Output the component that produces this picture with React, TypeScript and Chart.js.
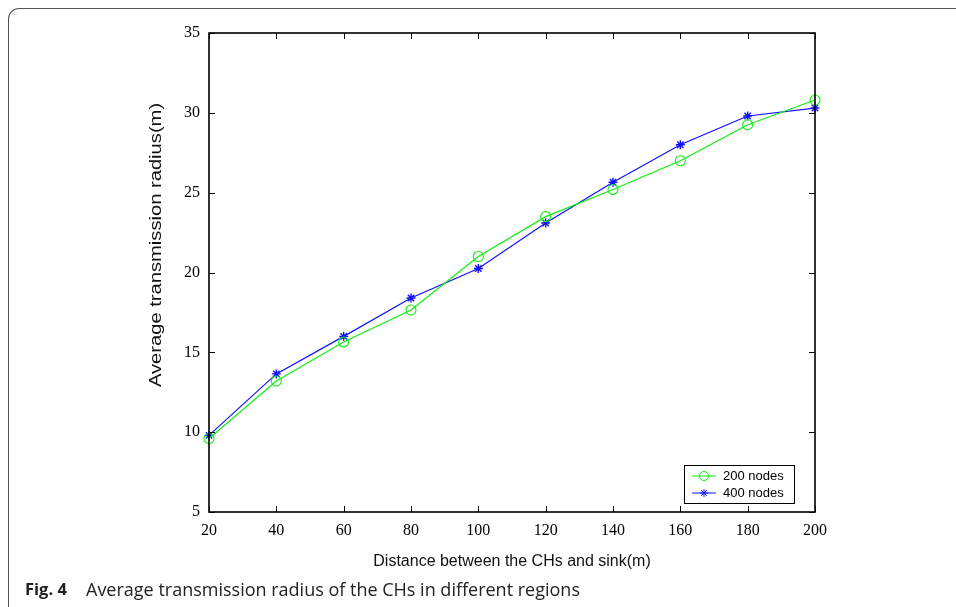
import React, { useEffect, useRef } from "react";
import { Chart, registerables } from "chart.js";

Chart.register(...registerables);

const distances = [20, 40, 60, 80, 100, 120, 140, 160, 180, 200];
const nodes200 = [9.6, 13.2, 15.65, 17.65, 21.0, 23.5, 25.2, 27.0, 29.25, 30.8];
const nodes400 = [9.8, 13.65, 16.0, 18.4, 20.25, 23.1, 25.65, 28.0, 29.8, 30.3];
const seriesLabels = ["200 nodes", "400 nodes"];
const xTitle = "Distance between the CHs and sink(m)";
const yTitle = "Average transmission radius(m)";
const captionBold = "Fig. 4";
const captionText = "Average transmission radius of the CHs in different regions";

const GREEN = "#10ee10";
const BLUE = "#1010ff";

const boxPlugin = {
  id: "boxPlugin",
  afterDraw(chart: any) {
    const { ctx, chartArea } = chart;
    const { left, right, top, bottom } = chartArea;
    const xs = chart.scales.x;
    const ys = chart.scales.y;
    ctx.save();
    ctx.strokeStyle = "#000";
    ctx.lineWidth = 1;
    const tl = 6;
    ctx.beginPath();
    xs.ticks.forEach((t: any) => {
      const px = Math.round(xs.getPixelForValue(t.value)) + 0.5;
      ctx.moveTo(px, bottom);
      ctx.lineTo(px, bottom - tl);
      ctx.moveTo(px, top);
      ctx.lineTo(px, top + tl);
    });
    ys.ticks.forEach((t: any) => {
      const py = Math.round(ys.getPixelForValue(t.value)) + 0.5;
      ctx.moveTo(left, py);
      ctx.lineTo(left + tl, py);
      ctx.moveTo(right, py);
      ctx.lineTo(right - tl, py);
    });
    ctx.stroke();
    ctx.lineWidth = 1.6;
    ctx.strokeRect(left, top, right - left, bottom - top);

    // y-axis title (stretched as in the reference)
    ctx.save();
    ctx.fillStyle = "#111";
    ctx.font = '16px "Liberation Sans"';
    ctx.textAlign = "center";
    ctx.textBaseline = "middle";
    ctx.translate(157, 245);
    ctx.rotate(-Math.PI / 2);
    ctx.scale(1.26, 1);
    ctx.fillText(yTitle, 0, 0);
    ctx.restore();

    // legend
    const lx = 684.5, ly = 465.5, lw = 110, lh = 38;
    ctx.fillStyle = "#fff";
    ctx.fillRect(lx, ly, lw, lh);
    ctx.lineWidth = 1;
    ctx.strokeStyle = "#000";
    ctx.strokeRect(lx, ly, lw, lh);
    chart.data.datasets.forEach((ds: any, i: number) => {
      const y = 476 + i * 17;
      ctx.strokeStyle = ds.borderColor;
      ctx.lineWidth = 1;
      ctx.beginPath();
      ctx.moveTo(692, y);
      ctx.lineTo(716, y);
      ctx.stroke();
      const cx = 704;
      ctx.beginPath();
      if (ds.pointStyle === "circle") {
        ctx.arc(cx, y, 4.5, 0, Math.PI * 2);
      } else {
        const r = 4;
        ctx.moveTo(cx, y - r); ctx.lineTo(cx, y + r);
        ctx.moveTo(cx - r, y); ctx.lineTo(cx + r, y);
        const d = r * Math.SQRT1_2;
        ctx.moveTo(cx - d, y - d); ctx.lineTo(cx + d, y + d);
        ctx.moveTo(cx - d, y + d); ctx.lineTo(cx + d, y - d);
      }
      ctx.stroke();
      ctx.fillStyle = "#000";
      ctx.font = '13px "Liberation Sans"';
      ctx.textAlign = "left";
      ctx.textBaseline = "middle";
      ctx.fillText(ds.label, 723, y + 0.5);
    });
    ctx.restore();
  },
};

export default function App() {
  const ref = useRef<HTMLCanvasElement | null>(null);
  useEffect(() => {
    if (!ref.current) return;
    const chart = new Chart(ref.current, {
      type: "line",
      data: {
        datasets: [
          {
            label: seriesLabels[0],
            data: distances.map((x, i) => ({ x, y: nodes200[i] })),
            borderColor: GREEN,
            backgroundColor: "transparent",
            borderWidth: 1.2,
            pointStyle: "circle",
            pointRadius: 5,
            pointBorderWidth: 1.1,
            pointBackgroundColor: "transparent",
            pointBorderColor: GREEN,
            clip: false as any,
            tension: 0,
          },
          {
            label: seriesLabels[1],
            data: distances.map((x, i) => ({ x, y: nodes400[i] })),
            borderColor: BLUE,
            backgroundColor: "transparent",
            borderWidth: 1.2,
            pointStyle: "star",
            pointRadius: 4.5,
            pointBorderWidth: 1.4,
            pointBackgroundColor: BLUE,
            pointBorderColor: BLUE,
            clip: false as any,
            tension: 0,
          },
        ],
      },
      options: {
        animation: false,
        responsive: false,
        devicePixelRatio: 1,
        layout: { padding: { top: 33, right: 141, bottom: 0, left: 0 } },
        plugins: {
          legend: { display: false },
          tooltip: { enabled: false },
          title: { display: false },
        },
        scales: {
          x: {
            type: "linear",
            min: 20,
            max: 200,
            border: { display: false },
            grid: { display: false, drawTicks: false },
            ticks: {
              stepSize: 20,
              padding: 9,
              color: "#000",
              font: { family: '"Liberation Serif"', size: 16 },
              maxRotation: 0,
            },
            title: {
              display: true,
              text: xTitle,
              color: "#111",
              font: { family: '"Liberation Sans"', size: 16 },
              padding: { top: 0, bottom: 36 },
            },
            afterFit: (s: any) => {
              s.height = 95;
            },
          },
          y: {
            type: "linear",
            min: 5,
            max: 35,
            border: { display: false },
            grid: { display: false, drawTicks: false },
            ticks: {
              stepSize: 5,
              padding: 9,
              color: "#000",
              font: { family: '"Liberation Serif"', size: 16 },
            },
            title: { display: false },
            afterFit: (s: any) => {
              s.width = 209;
            },
          },
        },
      },
      plugins: [boxPlugin],
    });
    return () => chart.destroy();
  }, []);

  return (
    <div
      style={{
        position: "absolute",
        left: 0,
        top: 0,
        width: 956,
        height: 607,
        background: "#fff",
        overflow: "hidden",
      }}
    >
      <div
        style={{
          position: "absolute",
          left: 8,
          top: 8,
          width: 1100,
          height: 800,
          borderTop: "1.5px solid #555",
          borderLeft: "1.5px solid #555",
          borderTopLeftRadius: 11,
          boxSizing: "border-box",
        }}
      />
      <canvas
        ref={ref}
        width={956}
        height={607}
        style={{ position: "absolute", left: 0, top: 0, display: "block" }}
      />
      <div
        style={{
          position: "absolute",
          left: 25,
          top: 580,
          fontFamily: '"Open Sans"',
          fontSize: 16.5,
          fontWeight: 700,
          lineHeight: "18px",
          color: "#222",
          whiteSpace: "pre",
        }}
      >
        {captionBold}
      </div>
      <div
        style={{
          position: "absolute",
          left: 86,
          top: 580,
          fontFamily: '"Open Sans"',
          fontSize: 18,
          lineHeight: "18px",
          color: "#222",
          whiteSpace: "pre",
        }}
      >
        {captionText}
      </div>
    </div>
  );
}
